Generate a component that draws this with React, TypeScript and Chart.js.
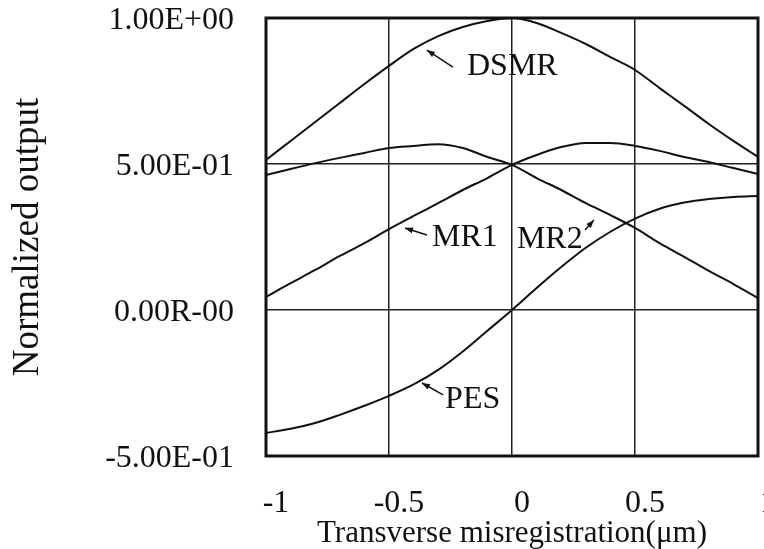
import React, { useEffect, useRef } from "react";
import { Chart, registerables } from "chart.js";

Chart.register(...registerables);

const xValues = [-1, -0.9, -0.8, -0.7, -0.6, -0.5, -0.4, -0.3, -0.2, -0.1, 0, 0.1, 0.2, 0.3, 0.4, 0.5, 0.6, 0.7, 0.8, 0.9, 1];
const dsmr = [0.514, 0.579, 0.644, 0.709, 0.774, 0.836, 0.894, 0.938, 0.969, 0.99, 1.0, 0.983, 0.949, 0.911, 0.866, 0.822, 0.76, 0.699, 0.637, 0.579, 0.524];
const mr1 = [0.045, 0.092, 0.137, 0.185, 0.229, 0.277, 0.322, 0.366, 0.411, 0.452, 0.497, 0.531, 0.558, 0.572, 0.572, 0.562, 0.545, 0.524, 0.507, 0.486, 0.466];
const mr2 = [0.462, 0.483, 0.503, 0.521, 0.538, 0.555, 0.562, 0.568, 0.555, 0.524, 0.497, 0.452, 0.411, 0.366, 0.325, 0.281, 0.229, 0.182, 0.134, 0.089, 0.041];
const pes = [-0.421, -0.407, -0.387, -0.359, -0.328, -0.294, -0.255, -0.205, -0.142, -0.071, 0.0, 0.075, 0.147, 0.213, 0.268, 0.313, 0.347, 0.368, 0.38, 0.387, 0.39];

const xTickValues = [-1, -0.5, 0, 0.5, 1];
const xTickLabels = ["-1", "-0.5", "0", "0.5", "1"];
const yTickValues = [-0.5, 0, 0.5, 1];
const yTickLabels = ["-5.00E-01", "0.00R-00", "5.00E-01", "1.00E+00"];

const seriesNames = ["DSMR", "MR1", "MR2", "PES"];
// label text anchor (left, middle) and arrow tail -> head, in data units
const labelText = ["DSMR", "MR1", "MR2", "PES"];
const labelX = [-0.183, -0.325, 0.02, -0.272];
const labelY = [0.832, 0.247, 0.24, -0.308];
const arrowFromX = [-0.24, -0.346, 0.297, -0.28];
const arrowFromY = [0.832, 0.257, 0.274, -0.291];
const arrowToX = [-0.346, -0.435, 0.333, -0.366];
const arrowToY = [0.89, 0.281, 0.308, -0.25];

const FONT = "'Liberation Serif', 'Times New Roman', serif";

const pts = (ys: number[]) => xValues.map((x, i) => ({ x, y: ys[i] }));

const annotationPlugin = {
  id: "annot",
  afterDatasetsDraw(chart: any) {
    const { ctx, scales } = chart;
    const xs = scales.x;
    const ys = scales.y;
    ctx.save();
    ctx.fillStyle = "#111";
    ctx.strokeStyle = "#111";
    ctx.font = `32px ${FONT}`;
    ctx.textAlign = "left";
    ctx.textBaseline = "middle";
    for (let i = 0; i < labelText.length; i++) {
      ctx.fillText(labelText[i], xs.getPixelForValue(labelX[i]), ys.getPixelForValue(labelY[i]));
      const x1 = xs.getPixelForValue(arrowFromX[i]);
      const y1 = ys.getPixelForValue(arrowFromY[i]);
      const x2 = xs.getPixelForValue(arrowToX[i]);
      const y2 = ys.getPixelForValue(arrowToY[i]);
      ctx.lineWidth = 1.5;
      ctx.beginPath();
      ctx.moveTo(x1, y1);
      ctx.lineTo(x2, y2);
      ctx.stroke();
      const ang = Math.atan2(y2 - y1, x2 - x1);
      const L = 8;
      const W = 3;
      ctx.beginPath();
      ctx.moveTo(x2, y2);
      ctx.lineTo(x2 - L * Math.cos(ang) + W * Math.sin(ang), y2 - L * Math.sin(ang) - W * Math.cos(ang));
      ctx.lineTo(x2 - L * Math.cos(ang) - W * Math.sin(ang), y2 - L * Math.sin(ang) + W * Math.cos(ang));
      ctx.closePath();
      ctx.fill();
    }
    ctx.restore();
  },
};

const framePlugin = {
  id: "frame",
  afterDraw(chart: any) {
    const { ctx, chartArea } = chart;
    ctx.save();
    ctx.strokeStyle = "#111";
    ctx.lineWidth = 3;
    ctx.strokeRect(chartArea.left, chartArea.top, chartArea.right - chartArea.left, chartArea.bottom - chartArea.top);
    ctx.restore();
  },
};

export default function App() {
  const ref = useRef<HTMLCanvasElement | null>(null);
  useEffect(() => {
    if (!ref.current) return;
    const lineDs = (label: string, data: number[]) => ({
      label,
      data: pts(data),
      borderColor: "#111",
      borderWidth: 2,
      pointRadius: 0,
      fill: false,
      cubicInterpolationMode: "monotone" as const,
    });
    const chart = new Chart(ref.current, {
      type: "line",
      data: {
        datasets: [
          lineDs(seriesNames[0], dsmr),
          lineDs(seriesNames[1], mr1),
          lineDs(seriesNames[2], mr2),
          lineDs(seriesNames[3], pes),
        ],
      },
      options: {
        animation: false,
        responsive: false,
        layout: { padding: { top: 18, right: 6, left: 0, bottom: 0 } },
        plugins: { legend: { display: false }, tooltip: { enabled: false } },
        scales: {
          x: {
            type: "linear",
            min: -1,
            max: 1,
            afterBuildTicks: (s: any) => {
              s.ticks = xTickValues.map((v) => ({ value: v }));
            },
            afterFit: (s: any) => {
              s.height = 93;
              s.paddingLeft = 0;
              s.paddingRight = 0;
            },
            grid: { color: "#222", lineWidth: 1.5, drawTicks: false },
            border: { display: false },
            ticks: {
              padding: 28,
              labelOffset: 10,
              maxRotation: 0,
              autoSkip: false,
              color: "#111",
              font: { family: FONT, size: 32 },
              callback: (v: any) => {
                const i = xTickValues.indexOf(Number(v));
                return i >= 0 ? xTickLabels[i] : "";
              },
            },
            title: {
              display: true,
              text: "Transverse misregistration(μm)",
              color: "#111",
              font: { family: FONT, size: 31, lineHeight: 1 },
              padding: { top: 0, bottom: 0 },
            },
          },
          y: {
            type: "linear",
            min: -0.5,
            max: 1,
            afterBuildTicks: (s: any) => {
              s.ticks = yTickValues.map((v) => ({ value: v }));
            },
            afterFit: (s: any) => {
              s.width = 266;
              s.paddingTop = 0;
              s.paddingBottom = 0;
            },
            grid: { color: "#222", lineWidth: 1.5, drawTicks: false },
            border: { display: false },
            ticks: {
              padding: 32,
              labelOffset: 3,
              color: "#111",
              font: { family: FONT, size: 32 },
              callback: (v: any) => {
                const i = yTickValues.indexOf(Number(v));
                return i >= 0 ? yTickLabels[i] : "";
              },
            },
            title: {
              display: true,
              text: "Normalized output",
              color: "#111",
              font: { family: FONT, size: 37, lineHeight: 1.2 },
              padding: { top: 6, bottom: 0 },
            },
          },
        },
      },
      plugins: [annotationPlugin, framePlugin],
    });
    return () => chart.destroy();
  }, []);
  return (
    <div style={{ position: "absolute", left: 0, top: 0, width: 764, height: 549, background: "#fff" }}>
      <canvas ref={ref} width={764} height={549} style={{ display: "block" }} />
    </div>
  );
}
